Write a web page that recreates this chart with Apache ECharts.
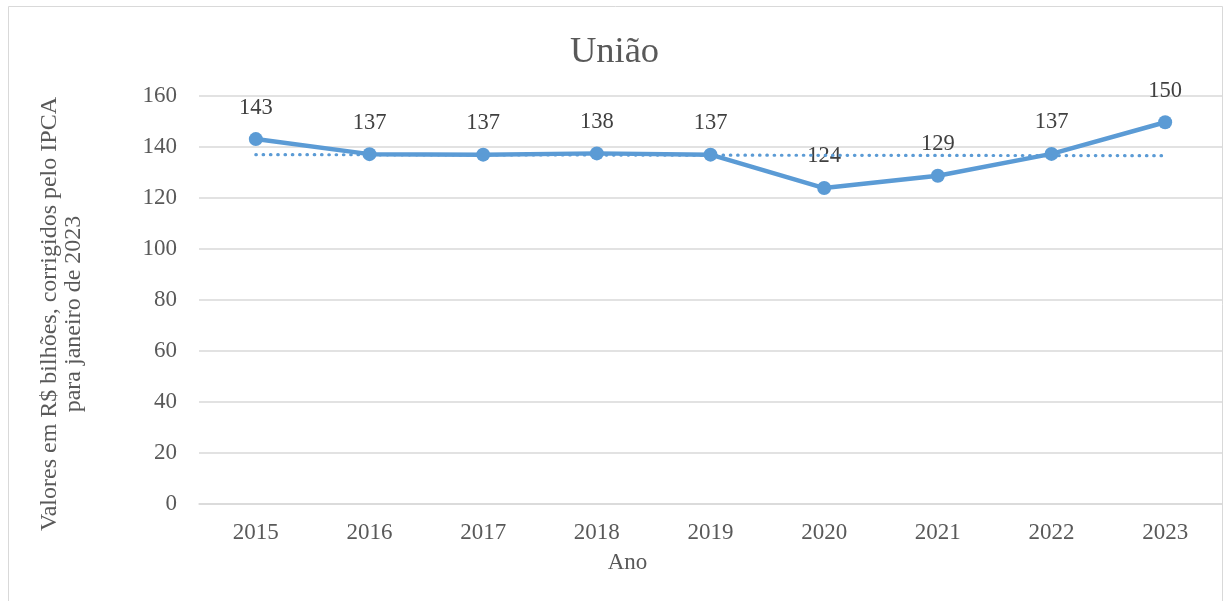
<!DOCTYPE html>
<html>
<head>
<meta charset="utf-8">
<script src="https://cdn.jsdelivr.net/npm/echarts@6/dist/echarts.min.js"></script>
<style>
html,body{margin:0;padding:0;background:#fff;}
#chart{width:1229px;height:601px;}
</style>
</head>
<body>
<div id="chart"></div>
<script>
const categories = ['2015','2016','2017','2018','2019','2020','2021','2022','2023'];
const values = [143.1, 137.2, 137.0, 137.5, 137.0, 123.9, 128.7, 137.3, 149.7];
const labels = ['143','137','137','138','137','124','129','137','150'];
const trendStart = 137.0;
const trendEnd = 136.6;
const yTicks = { min: 0, max: 160, interval: 20 };

const FONT = '"Liberation Serif", "Times New Roman", serif';
const BLUE = '#5B9BD5';

const chart = echarts.init(document.getElementById('chart'), null, {renderer: 'canvas'});
chart.setOption({
  backgroundColor: '#ffffff',
  animation: false,
  title: {
    text: 'União',
    left: 'center',
    top: 29,
    textStyle: {fontFamily: FONT, fontSize: 36.5, fontWeight: 'normal', color: '#595959'}
  },
  graphic: [{
    type: 'rect',
    shape: {x: 8.5, y: 6.5, width: 1214, height: 610},
    style: {fill: 'none', stroke: '#d9d9d9', lineWidth: 1},
    silent: true
  }],
  grid: {left: 199, right: 7, top: 96, bottom: 97, containLabel: false},
  xAxis: {
    type: 'category',
    data: categories,
    boundaryGap: true,
    name: 'Ano',
    nameLocation: 'middle',
    nameGap: 47,
    nameTextStyle: {fontFamily: FONT, fontSize: 23, color: '#595959', padding: [0, 166, 0, 0]},
    axisLine: {show: true, lineStyle: {color: '#d9d9d9', width: 1.5}},
    axisTick: {show: false},
    axisLabel: {fontFamily: FONT, fontSize: 23, color: '#595959', margin: 17}
  },
  yAxis: {
    type: 'value',
    min: yTicks.min,
    max: yTicks.max,
    interval: yTicks.interval,
    name: 'Valores em R$ bilhões, corrigidos pelo IPCA\npara janeiro de 2023',
    nameLocation: 'middle',
    nameGap: 113,
    nameRotate: 90,
    nameTextStyle: {fontFamily: FONT, fontSize: 24, color: '#595959', lineHeight: 24, padding: [0, 28, 0, 0]},
    axisLine: {show: false},
    axisTick: {show: false},
    axisLabel: {fontFamily: FONT, fontSize: 23, color: '#595959', margin: 22},
    splitLine: {show: true, lineStyle: {color: '#d9d9d9', width: 1.5}}
  },
  series: [
    {
      name: 'Tendência',
      type: 'line',
      data: [],
      z: 1,
      markLine: {
        silent: true,
        symbol: ['none', 'none'],
        label: {show: false},
        lineStyle: {color: BLUE, width: 3.2, type: [0.5, 6.8], cap: 'round'},
        data: [[{coord: [categories[0], trendStart]}, {coord: [categories[categories.length - 1], trendEnd]}]]
      }
    },
    {
      name: 'União',
      type: 'line',
      data: values,
      z: 3,
      symbol: 'circle',
      symbolSize: 14,
      lineStyle: {color: BLUE, width: 4.5},
      itemStyle: {color: BLUE},
      label: {
        show: true,
        position: 'top',
        distance: 13,
        fontFamily: FONT,
        fontSize: 22.5,
        color: '#404040',
        formatter: p => labels[p.dataIndex]
      }
    }
  ]
});
</script>
</body>
</html>
